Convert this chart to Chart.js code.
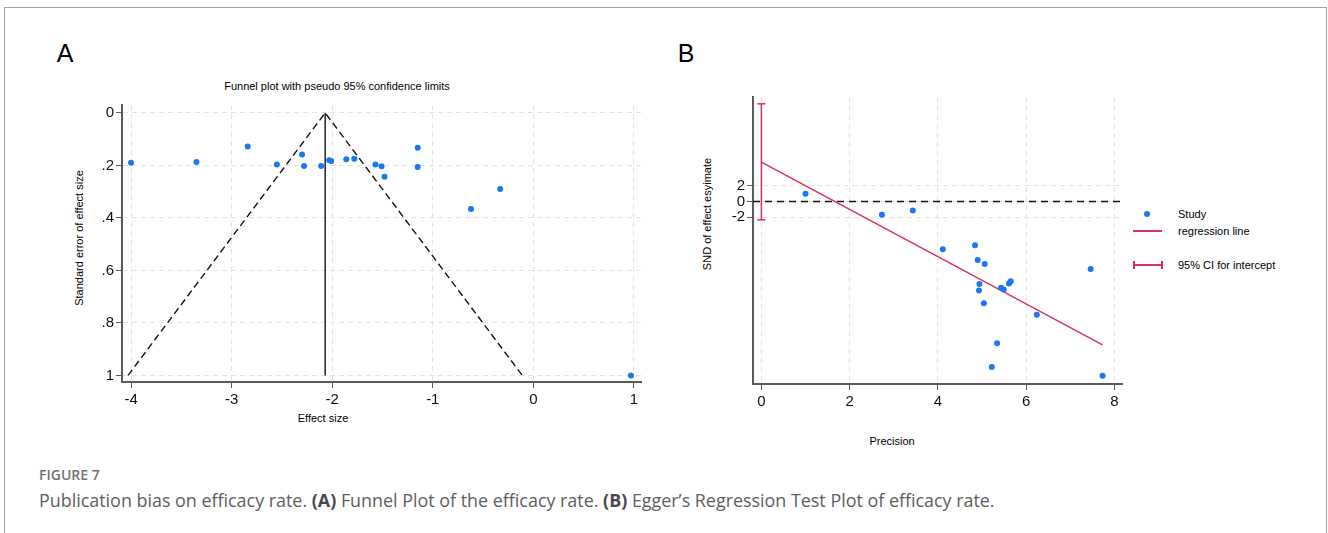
<!DOCTYPE html>
<html>
<head>
<meta charset="utf-8">
<script src="https://cdn.jsdelivr.net/npm/chart.js@4.4.1/dist/chart.umd.min.js"></script>
<style>
  body { margin: 0; width: 1328px; height: 533px; background: #fff; overflow: hidden; position: relative; font-family: "Liberation Sans", Arial, sans-serif; }
  .frame { position: absolute; left: 4px; top: 7px; width: 1321px; height: 600px; border: 1px solid #a3a3a3; }
  .t { position: absolute; white-space: nowrap; color: #000; transform: translate(-50%, -50%); font-size: 11px; }
  .l { position: absolute; white-space: nowrap; color: #000; transform: translateY(-50%); font-size: 11px; }
  .rot { transform: translate(-50%, -50%) rotate(-90deg); }
  .panel { position: absolute; font-size: 25px; transform: translate(-50%, -50%); }
  .box { position: absolute; }
  .fig { position: absolute; left: 39px; top: 474px; transform: translateY(-50%); font-family: "Open Sans", sans-serif; font-size: 14px; font-weight: 600; color: #737373; }
  .cap { position: absolute; left: 39px; top: 500px; transform: translateY(-50%); font-family: "Open Sans", sans-serif; font-size: 17.9px; color: #5e5e5e; white-space: nowrap; }
  .cap b { color: #4a4a4a; }
</style>
</head>
<body>
<div class="frame"></div>

<div class="panel" style="left:65px;top:53px">A</div>
<div class="panel" style="left:686px;top:53px">B</div>

<div class="t" style="left:337px;top:86px">Funnel plot with pseudo 95% confidence limits</div>
<div class="t" style="left:323px;top:418px">Effect size</div>
<div class="t rot" style="left:79px;top:238px">Standard error of effect size</div>

<div class="t" style="left:892px;top:441px">Precision</div>
<div class="t rot" style="left:707px;top:214px">SND of effect esyimate</div>

<!-- legend for panel B -->
<div class="box" style="left:1144px;top:211px;width:6px;height:6px;border-radius:50%;background:#1a78f2"></div>
<div class="l" style="left:1178px;top:214px">Study</div>
<div class="box" style="left:1133px;top:230px;width:29px;height:1.5px;background:#d8315b"></div>
<div class="l" style="left:1178px;top:231px">regression line</div>
<div class="box" style="left:1133px;top:264px;width:29px;height:1.5px;background:#d8315b"></div>
<div class="box" style="left:1133px;top:261px;width:1.5px;height:8px;background:#d8315b"></div>
<div class="box" style="left:1161px;top:261px;width:1.5px;height:8px;background:#d8315b"></div>
<div class="l" style="left:1178px;top:265px">95% CI for intercept</div>

<div class="box" style="left:60px;top:90px;width:600px;height:320px"><canvas id="funnel" width="600" height="320"></canvas></div>
<div class="box" style="left:690px;top:80px;width:450px;height:330px"><canvas id="egger" width="450" height="330"></canvas></div>

<div class="fig">FIGURE 7</div>
<div class="cap">Publication bias on efficacy rate. <b>(A)</b> Funnel Plot of the efficacy rate. <b>(B)</b> Egger’s Regression Test Plot of efficacy rate.</div>

<script>
// ---- panel A: funnel plot ----
const effectSize = [-4.0, -3.35, -2.84, -2.55, -2.30, -2.28, -2.11, -2.03, -2.01, -1.86, -1.78, -1.57, -1.51, -1.48, -1.15, -1.15, -0.62, -0.33, 0.97];
const stdError   = [0.19, 0.187, 0.128, 0.197, 0.159, 0.202, 0.202, 0.18, 0.183, 0.177, 0.175, 0.197, 0.203, 0.243, 0.133, 0.206, 0.366, 0.29, 1.0];
const funnelX = [-4.03, -2.07, -0.11];
const funnelY = [1, 0, 1];
const pooledX = [-2.07, -2.07];
const pooledY = [0, 1];
const xTicksA = [-4, -3, -2, -1, 0, 1];
const yTicksA = [0, 0.2, 0.4, 0.6, 0.8, 1];
const yLabelsA = ['0', '.2', '.4', '.6', '.8', '1'];

// ---- panel B: Egger's test ----
const precision = [1.0, 2.73, 3.43, 4.11, 4.84, 4.90, 5.06, 7.46, 4.94, 4.93, 5.43, 5.49, 5.61, 5.65, 5.04, 6.24, 5.34, 5.22, 7.73];
const snd       = [0.97, -1.68, -1.14, -6.04, -5.53, -7.39, -7.9, -8.52, -10.42, -11.25, -10.9, -11.1, -10.35, -10.06, -12.84, -14.3, -17.9, -20.9, -22.0];
const regX = [0, 7.73];
const regY = [4.97, -18.1];
const ciX = [0, 0];
const ciY = [12.34, -2.32];
const xTicksB = [0, 2, 4, 6, 8];
const yTicksB = [-2, 0, 2];
const xRangeB = [-0.19, 8.17];
const yRangeB = [-23.05, 13.2];

const blue = '#1a78f2';
const red = '#d8315b';
const gridColor = '#e3e3e3';
const axisColor = '#5a5a5a';

const pts = (xs, ys) => xs.map((x, i) => ({ x: x, y: ys[i] }));

function axis(min, max, ticks, labels, fixed, horizontal, reverse) {
  return {
    type: 'linear',
    min: min,
    max: max,
    reverse: !!reverse,
    afterBuildTicks: s => { s.ticks = ticks.map(v => ({ value: v })); },
    afterFit: s => { if (horizontal) s.height = fixed; else s.width = fixed; },
    ticks: {
      autoSkip: false,
      color: '#111',
      padding: horizontal ? 3 : 2,
      font: { family: 'Liberation Sans', size: 15 },
      callback: (v, i) => labels ? labels[i] : String(v)
    },
    grid: { color: gridColor, lineWidth: 1, tickLength: 6, tickColor: axisColor, tickWidth: 1, tickBorderDash: [] },
    border: { color: axisColor, width: 2, dash: [5, 4] }
  };
}

Chart.defaults.font.family = 'Liberation Sans';

new Chart(document.getElementById('funnel'), {
  type: 'scatter',
  data: {
    datasets: [
      { data: pts(effectSize, stdError), backgroundColor: blue, pointRadius: 3, borderWidth: 0, order: 0 },
      { data: pts(funnelX, funnelY), showLine: true, borderColor: '#111', borderWidth: 1.4, borderDash: [7, 4], pointRadius: 0, order: 1 },
      { data: pts(pooledX, pooledY), showLine: true, borderColor: '#111', borderWidth: 1.4, pointRadius: 0, order: 1 }
    ]
  },
  options: {
    responsive: false,
    animation: false,
    devicePixelRatio: 1,
    layout: { padding: { left: 0, top: 15, right: 19, bottom: 0 } },
    plugins: { legend: { display: false }, tooltip: { enabled: false } },
    scales: {
      x: axis(-4.09, 1.07, xTicksA, null, 28, true),
      y: axis(-0.03, 1.025, yTicksA, yLabelsA, 62, false, true)
    }
  }
});

new Chart(document.getElementById('egger'), {
  type: 'scatter',
  data: {
    datasets: [
      { data: pts(precision, snd), backgroundColor: blue, pointRadius: 3, borderWidth: 0, order: 0 },
      { data: pts(regX, regY), showLine: true, borderColor: red, borderWidth: 1.4, pointRadius: 0, order: 1 },
      { data: pts(ciX, ciY), showLine: true, borderColor: red, borderWidth: 1.5, pointStyle: 'line', pointRadius: 4, pointBorderColor: red, pointBorderWidth: 1.5, order: 1 },
      { data: pts(xRangeB, [0, 0]), showLine: true, borderColor: '#111', borderWidth: 1.6, borderDash: [7, 5], pointRadius: 0, order: 2 }
    ]
  },
  options: {
    responsive: false,
    animation: false,
    devicePixelRatio: 1,
    layout: { padding: { left: 0, top: 17, right: 18, bottom: 0 } },
    plugins: { legend: { display: false }, tooltip: { enabled: false } },
    scales: {
      x: axis(xRangeB[0], xRangeB[1], xTicksB, null, 26, true),
      y: axis(yRangeB[0], yRangeB[1], yTicksB, null, 63, false)
    }
  }
});
</script>
</body>
</html>
